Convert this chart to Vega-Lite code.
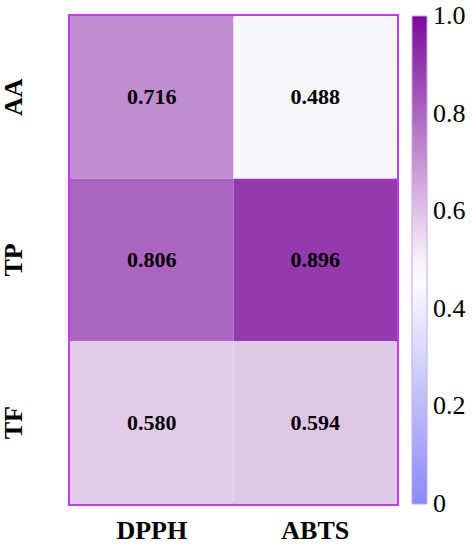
{
  "$schema": "https://vega.github.io/schema/vega-lite/v6.json",
  "width": 327,
  "height": 488,
  "autosize": {"type": "none"},
  "padding": {"left": 70, "top": 16, "right": 76, "bottom": 46},
  "data": {
    "values": [
      {"assay": "DPPH", "compound": "AA", "r": 0.716},
      {"assay": "ABTS", "compound": "AA", "r": 0.488},
      {"assay": "DPPH", "compound": "TP", "r": 0.806},
      {"assay": "ABTS", "compound": "TP", "r": 0.896},
      {"assay": "DPPH", "compound": "TF", "r": 0.58},
      {"assay": "ABTS", "compound": "TF", "r": 0.594}
    ]
  },
  "encoding": {
    "x": {
      "field": "assay", "type": "nominal", "sort": ["DPPH", "ABTS"],
      "scale": {"paddingInner": 0, "paddingOuter": 0},
      "axis": {"title": null, "labelAngle": 0, "ticks": false, "domain": false, "labelPadding": 13,
               "labelFont": "Liberation Serif", "labelFontSize": 26, "labelFontWeight": "bold", "labelColor": "#000"}
    },
    "y": {
      "field": "compound", "type": "nominal", "sort": ["AA", "TP", "TF"],
      "scale": {"paddingInner": 0, "paddingOuter": 0},
      "axis": {"title": null, "labelAngle": -90, "ticks": false, "domain": false, "labelPadding": 44,
               "labelAlign": "center", "labelBaseline": "bottom",
               "labelFont": "Liberation Serif", "labelFontSize": 26, "labelFontWeight": "bold", "labelColor": "#000"}
    }
  },
  "layer": [
    {
      "mark": {"type": "rect"},
      "encoding": {
        "color": {
          "field": "r", "type": "quantitative",
          "scale": {"domain": [0, 0.47, 1], "range": ["#8a8af7", "#ffffff", "#7a0a9a"], "interpolate": "rgb"},
          "legend": {
            "type": "gradient",
            "title": null, "orient": "right", "offset": 15, "padding": 0,
            "gradientLength": 488, "gradientThickness": 15,
            "gradientStrokeColor": "#c9a6e6", "gradientStrokeWidth": 1,
            "values": [0, 0.2, 0.4, 0.6, 0.8, 1],
            "labelExpr": "datum.value == 0 ? '0' : format(datum.value, '.1f')",
            "labelFont": "Liberation Serif", "labelFontSize": 26, "labelColor": "#000", "labelOffset": 6,
            "encode": {"labels": {"update": {"baseline": {"value": "middle"}}}}
          }
        }
      }
    },
    {
      "mark": {"type": "text", "font": "Liberation Serif", "fontSize": 22, "fontWeight": "bold", "color": "#000"},
      "encoding": {"text": {"field": "r", "type": "quantitative", "format": ".3f"}}
    }
  ],
  "config": {
    "view": {"stroke": "#c03ce8", "strokeWidth": 4}
  }
}
